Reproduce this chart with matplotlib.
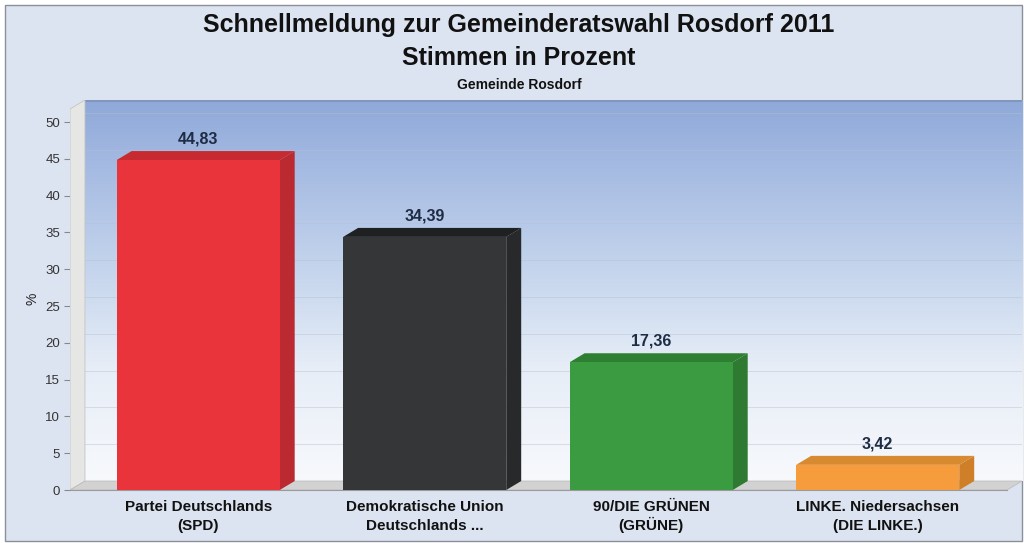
import numpy as np
import matplotlib
matplotlib.use("Agg")
from matplotlib import pyplot as plt
from matplotlib.patches import Polygon, Rectangle
from matplotlib.colors import LinearSegmentedColormap

plt.rcParams['font.family'] = ['Liberation Sans', 'DejaVu Sans']

# data
parties = [("Partei Deutschlands", "(SPD)"), ("Demokratische Union", "Deutschlands ..."),
           ("90/DIE GRÜNEN", "(GRÜNE)"), ("LINKE. Niedersachsen", "(DIE LINKE.)")]
values = [44.83, 34.39, 17.36, 3.42]
value_labels = ["44,83", "34,39", "17,36", "3,42"]
yticks = [0, 5, 10, 15, 20, 25, 30, 35, 40, 45, 50]

face_colors = ["#ea343c", "#343638", "#3b9b40", "#f69c3c"]
side_colors = ["#bb2a30", "#27292b", "#2e7a32", "#cf7f28"]
top_colors = ["#c72b31", "#1f2022", "#2f7f33", "#d88a30"]

W, H = 1024, 543
fig = plt.figure(figsize=(W / 100, H / 100), dpi=100)
fig.patch.set_facecolor("white")

# chart background with border
fig.add_artist(Rectangle((5 / W, 2 / H), (W - 7) / W, (H - 7) / H, transform=fig.transFigure,
                         facecolor="#dde4f1", edgecolor="#8a8f99", lw=1, zorder=-5))

# axes placed in pixel terms
left, right, top, bottom = 70, 1022, 100, 497
ax = fig.add_axes([left / W, (H - bottom) / H, (right - left) / W, (bottom - top) / H])
ax.patch.set_alpha(0)

xmin, xmax = -0.566, 3.637
ymin, ymax = -0.95, 52.99
ax.set_xlim(xmin, xmax)
ax.set_ylim(ymin, ymax)

dx, dy = 0.066, 1.22   # depth of the 3D effect
bw = 0.72

# back wall with gradient
cmap = LinearSegmentedColormap.from_list(
    "wall", [(0, "#f7f9fc"), (0.3, "#e6edf7"), (0.55, "#c5d5ed"), (0.85, "#a2b8e1"), (1, "#8ea8d8")])
grad = np.linspace(0, 1, 256).reshape(-1, 1)
ax.imshow(grad, cmap=cmap, aspect="auto", origin="lower",
          extent=(xmin + dx, xmax, dy, ymax), zorder=0)
ax.plot([xmin + dx, xmax], [ymax - 0.1, ymax - 0.1], color="#7f93bb", lw=1.2, zorder=1)

# grid lines on back wall
for t in yticks[1:]:
    ax.plot([xmin + dx, xmax], [t + dy, t + dy], color="#b4c0d4", lw=0.7, alpha=0.45, zorder=1)

# left wall
ax.add_patch(Polygon([(xmin, 0), (xmin + dx, dy), (xmin + dx, ymax), (xmin, ymax - dy)],
                     closed=True, facecolor="#e6e6e4", edgecolor="#c4c4c4", lw=0.6, zorder=2))
# floor
ax.add_patch(Polygon([(xmin, 0), (xmax - dx, 0), (xmax, dy), (xmin + dx, dy)],
                     closed=True, facecolor="#d2d2d2", edgecolor="#bdbdbd", lw=0.6, zorder=2))
ax.plot([xmin, xmax - dx], [0, 0], color="#9a9a9a", lw=0.8, zorder=2)

# bars
for i, v in enumerate(values):
    x0, x1 = i - bw / 2, i + bw / 2
    ax.add_patch(Polygon([(x1, 0), (x1 + dx, dy), (x1 + dx, v + dy), (x1, v)],
                         closed=True, facecolor=side_colors[i], lw=0, zorder=3))
    ax.add_patch(Polygon([(x0, v), (x0 + dx, v + dy), (x1 + dx, v + dy), (x1, v)],
                         closed=True, facecolor=top_colors[i], lw=0, zorder=3))
    ax.add_patch(Rectangle((x0, 0), bw, v, facecolor=face_colors[i], lw=0, zorder=4))
    ax.text(i, v + dy + 0.6, value_labels[i], ha="center", va="bottom",
            fontsize=11.5, fontweight="bold", color="#1e2c44", zorder=5)

for s in ax.spines.values():
    s.set_visible(False)
ax.set_yticks(yticks)
ax.set_yticklabels([str(t) for t in yticks], fontsize=9.5, color="#333333")
ax.tick_params(axis="y", length=4, color="#888888", pad=3)
ax.set_xticks([])
xtr = ax.get_xaxis_transform()
for i, (l1, l2) in enumerate(parties):
    ax.text(i, -0.036, l1, transform=xtr, ha="center", va="baseline",
            fontsize=11, fontweight="bold", color="#111111")
    ax.text(i, -0.082, l2, transform=xtr, ha="center", va="baseline",
            fontsize=11, fontweight="bold", color="#111111")
ax.set_ylabel("%", fontsize=10, color="#222222", labelpad=4)

fig.text(519 / W, 1 - 25 / H, "Schnellmeldung zur Gemeinderatswahl Rosdorf 2011",
         ha="center", va="center", fontsize=18, fontweight="bold", color="#111111")
fig.text(519 / W, 1 - 58 / H, "Stimmen in Prozent",
         ha="center", va="center", fontsize=18, fontweight="bold", color="#111111")
fig.text(519 / W, 1 - 85 / H, "Gemeinde Rosdorf",
         ha="center", va="center", fontsize=10, fontweight="bold", color="#111111")

fig.savefig("out.png", dpi=100, facecolor=fig.get_facecolor())
